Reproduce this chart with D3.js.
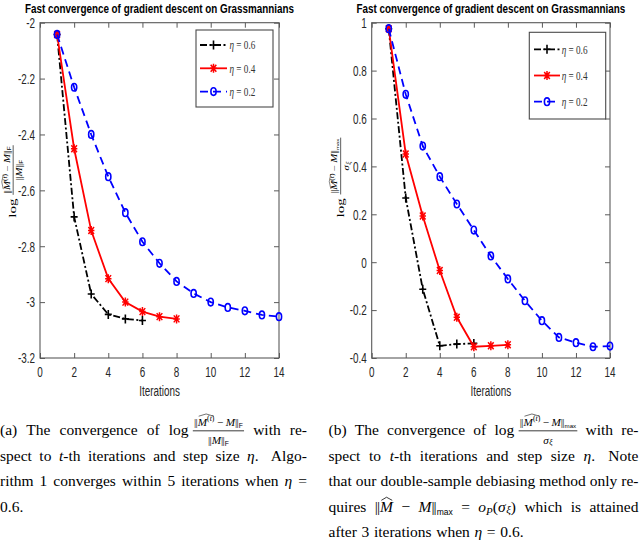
<!DOCTYPE html>
<html><head><meta charset="utf-8">
<script src="https://cdn.jsdelivr.net/npm/d3@7"></script>
<style>body{margin:0;background:#fff}</style>
</head><body>
<svg id="c" width="640" height="542"></svg>
<script>
// ---------- data ----------
const iterations = [1,2,3,4,5,6,7,8,9,10,11,12,13,14];
const etaLabels = ["0.6","0.4","0.2"];
const leftEta06 = [-2.042,-2.695,-2.971,-3.044,-3.060,-3.066];
const leftEta04 = [-2.042,-2.451,-2.744,-2.916,-3.000,-3.034,-3.052,-3.060];
const leftEta02 = [-2.042,-2.231,-2.400,-2.551,-2.680,-2.784,-2.861,-2.926,-2.969,-3.000,-3.019,-3.031,-3.046,-3.052];
const rightEta06 = [0.975,0.268,-0.113,-0.349,-0.342,-0.339];
const rightEta04 = [0.975,0.452,0.193,-0.035,-0.230,-0.353,-0.349,-0.345];
const rightEta02 = [0.975,0.701,0.485,0.357,0.243,0.134,0.026,-0.070,-0.161,-0.244,-0.314,-0.336,-0.353,-0.350];
const xTicks = [0,2,4,6,8,10,12,14];
const xTickLabels = ["0","2","4","6","8","10","12","14"];
const leftYTicks = [-2,-2.2,-2.4,-2.6,-2.8,-3,-3.2];
const leftYTickLabels = ["-2","-2.2","-2.4","-2.6","-2.8","-3","-3.2"];
const rightYTicks = [1,0.8,0.6,0.4,0.2,0,-0.2,-0.4];
const rightYTickLabels = ["1","0.8","0.6","0.4","0.2","0","-0.2","-0.4"];
const titleText = "Fast convergence of gradient descent on Grassmannians";
const xLabelText = "Iterations";

// ---------- helpers ----------
const SERIF = "'Liberation Serif','DejaVu Serif',serif";
const SANS = "'Liberation Sans',Arial,sans-serif";
const svg = d3.select("#c");

function txt(g, p, x, y, base) {
  const fs = base * (p.s || 1);
  const t = g.append("text").attr("x", x).attr("y", y + (p.dy || 0) * base)
    .attr("font-family", p.sans ? SANS : SERIF).attr("font-size", fs)
    .attr("font-style", p.i ? "italic" : "normal").attr("fill", p.fill || "#000").text(p.t);
  return t.node().getComputedTextLength();
}
function render(g, pieces, x, y, base) {
  for (const p of pieces) {
    if (p.sp !== undefined) { x += p.sp * base; continue; }
    if (p.frac) {
      const fs = p.fs || 0.72;
      const gn = g.append("g"), gd = g.append("g");
      const wn = render(gn, p.frac[0], 0, 0, base * fs);
      const wd = render(gd, p.frac[1], 0, 0, base * fs);
      const w = Math.max(wn, wd) + 0.15 * base;
      gn.attr("transform", `translate(${x + (w - wn) / 2},${y - 0.6 * base})`);
      gd.attr("transform", `translate(${x + (w - wd) / 2},${y + 0.55 * base})`);
      g.append("line").attr("x1", x).attr("x2", x + w)
        .attr("y1", y - 0.27 * base).attr("y2", y - 0.27 * base)
        .attr("stroke", "#000").attr("stroke-width", 0.05 * base);
      x += w; continue;
    }
    if (p.hat) {
      const x0 = x;
      x = render(g, p.hat, x, y, base);
      const hy = y - (p.h || 0.8) * base;
      g.append("path")
        .attr("d", `M${x0 + 0.08 * base},${hy + 0.1 * base}L${(x0 + x) / 2},${hy - 0.1 * base}L${x - 0.05 * base},${hy + 0.1 * base}`)
        .attr("fill", "none").attr("stroke", "#000").attr("stroke-width", 0.05 * base);
      continue;
    }
    x += txt(g, p, x, y, base);
  }
  return x;
}
const W = s => [{ t: s }];
const sup = s => ({ t: s, s: 0.7, dy: -0.38 });
const supI = s => ({ t: s, s: 0.7, dy: -0.38, i: 1 });
const bar = { t: "|" };
const NORM = [bar, { sp: -0.06 }, bar];
const Mhat_t = { hat: [{ t: "M", i: 1 }, sup("("), supI("t"), sup(")")], h: 0.95 };
const normNum = sub => [...NORM, Mhat_t, { sp: 0.22 }, { t: "\u2212" }, { sp: 0.22 }, { t: "M", i: 1 }, ...NORM, sub];
const subF = { t: "F", sans: 1, s: 0.6, dy: 0.2 };
const subMax = { t: "max", sans: 1, s: 0.55, dy: 0.2 };
const sigmaXi = [{ t: "\u03c3", i: 1 }, { sp: 0.04 }, { t: "\u03be", i: 1, s: 0.7, dy: 0.1 }];
const fracF = { frac: [normNum(subF), [...NORM, { t: "M", i: 1 }, ...NORM, subF]] };
const fracMax = { frac: [normNum(subMax), sigmaXi] };

// ---------- charts ----------
function marker(g, type, color, cx, cy) {
  if (type === "plus") {
    g.append("path").attr("d", `M${cx - 3.5},${cy}H${cx + 3.5}M${cx},${cy - 4.5}V${cy + 4.5}`)
      .attr("stroke", color).attr("stroke-width", 1.6).attr("fill", "none");
  } else if (type === "star") {
    g.append("path").attr("d", `M${cx - 3.2},${cy}H${cx + 3.2}M${cx},${cy - 4.5}V${cy + 4.5}M${cx - 2.8},${cy - 3.5}L${cx + 2.8},${cy + 3.5}M${cx - 2.8},${cy + 3.5}L${cx + 2.8},${cy - 3.5}`)
      .attr("stroke", color).attr("stroke-width", 1.5).attr("fill", "none");
  } else {
    g.append("ellipse").attr("cx", cx).attr("cy", cy).attr("rx", 2.6).attr("ry", 3.8)
      .attr("stroke", color).attr("stroke-width", 1.6).attr("fill", "none");
  }
}

const seriesStyle = [
  { color: "#000", dash: "7,2.5,2,2.5", mk: "plus" },
  { color: "#ff0000", dash: null, mk: "star" },
  { color: "#0000ff", dash: "8,5", mk: "circle" }
];

function condensedText(g, x, y, anchor, str, sx, attrs) {
  const t = g.append("text").attr("transform", `translate(${x},${y}) scale(${sx},1)`)
    .attr("text-anchor", anchor).text(str);
  Object.entries(attrs).forEach(([k, val]) => t.attr(k, val));
  return t;
}

function drawChart(cfg) {
  const g = svg.append("g");
  const x = d3.scaleLinear().domain([0, 14]).range([cfg.x0, cfg.x1]);
  const y = d3.scaleLinear().domain(cfg.yDomain).range([cfg.yB, cfg.yT]);
  const axisCol = "#5a5a5a";
  g.append("g").attr("transform", `translate(0,${cfg.yB})`)
    .call(d3.axisBottom(x).tickValues(xTicks).tickSize(-5).tickFormat(""));
  g.append("g").attr("transform", `translate(0,${cfg.yT})`)
    .call(d3.axisTop(x).tickValues(xTicks).tickSize(-5).tickFormat(""));
  g.append("g").attr("transform", `translate(${cfg.x0},0)`)
    .call(d3.axisLeft(y).tickValues(cfg.yTicks).tickSize(-5).tickFormat(""));
  g.append("g").attr("transform", `translate(${cfg.x1},0)`)
    .call(d3.axisRight(y).tickValues(cfg.yTicks).tickSize(-5).tickFormat(""));
  g.selectAll(".domain").remove();
  g.selectAll(".tick line").attr("stroke", axisCol).attr("stroke-width", 1);
  g.append("rect").attr("x", cfg.x0).attr("y", cfg.yT).attr("width", cfg.x1 - cfg.x0).attr("height", cfg.yB - cfg.yT)
    .attr("fill", "none").attr("stroke", axisCol).attr("stroke-width", 1.1);

  const lab = { "font-family": SANS, "font-size": 15, fill: "#262626" };
  xTicks.forEach((v, i) => condensedText(g, x(v), cfg.yB + 19, "middle", xTickLabels[i], 0.66, lab));
  cfg.yTicks.forEach((v, i) => condensedText(g, cfg.x0 - 5, y(v) + 5.3, "end", cfg.yLabels[i], 0.66, lab));
  condensedText(g, (cfg.x0 + cfg.x1) / 2, cfg.yB + 38, "middle", xLabelText, 0.66, lab);

  // title (condensed to the reference width)
  const tt = condensedText(g, (cfg.x0 + cfg.x1) / 2, 13, "middle", titleText, 1,
    { "font-family": SANS, "font-weight": "bold", "font-size": 13.5, fill: "#000" });
  const tw = tt.node().getComputedTextLength();
  tt.attr("transform", `translate(${(cfg.x0 + cfg.x1) / 2},13) scale(${269 / tw},1)`);

  const line = d3.line().x((d, i) => x(iterations[i])).y(d => y(d));
  cfg.series.forEach((vals, si) => {
    const st = seriesStyle[si];
    g.append("path").datum(vals).attr("d", line).attr("fill", "none")
      .attr("stroke", st.color).attr("stroke-width", 1.8).attr("stroke-dasharray", st.dash);
    vals.forEach((v, i) => marker(g, st.mk, st.color, x(iterations[i]), y(v)));
  });

  const L = cfg.legend;
  g.append("rect").attr("x", L.x).attr("y", L.y).attr("width", L.w).attr("height", L.h)
    .attr("fill", "#fff").attr("stroke", "#4a4a4a").attr("stroke-width", 1.1);
  etaLabels.forEach((lbl, i) => {
    const st = seriesStyle[i];
    const cy = L.y + L.first + i * L.step;
    g.append("line").attr("x1", L.lx0).attr("x2", L.lx1).attr("y1", cy).attr("y2", cy)
      .attr("stroke", st.color).attr("stroke-width", 1.8).attr("stroke-dasharray", st.dash);
    marker(g, st.mk, st.color, (L.lx0 + L.lx1) / 2, cy);
    const tg = g.append("g").attr("transform", `translate(${L.tx},${cy + 4.3}) scale(0.68,1)`);
    render(tg, [{ t: "\u03b7", i: 1, fill: "#333" }, { sp: 0.25 }, { t: "=", fill: "#333" }, { sp: 0.25 }, { t: lbl, fill: "#333" }], 0, 0, 13.5);
  });

  const yl = svg.append("g");
  const inner = yl.append("g");
  const wlab = render(inner, [{ t: "log" }, { sp: 0.25 }, cfg.yFrac], 0, 0, 15);
  yl.attr("transform", `translate(${cfg.ylx},${cfg.ylc + wlab / 2}) rotate(-90) scale(1,0.7)`);
}

drawChart({
  x0: 40, x1: 279, yT: 22.7, yB: 358, yDomain: [-3.2, -2],
  yTicks: leftYTicks, yLabels: leftYTickLabels,
  series: [leftEta06, leftEta04, leftEta02],
  legend: { x: 196, y: 30, w: 77, h: 77, first: 15, step: 23.3, lx0: 200, lx1: 227, tx: 229.5 },
  yFrac: fracF, ylx: 16, ylc: 181.5
});
drawChart({
  x0: 371.7, x1: 610, yT: 22.7, yB: 358, yDomain: [-0.4, 1],
  yTicks: rightYTicks, yLabels: rightYTickLabels,
  series: [rightEta06, rightEta04, rightEta02],
  legend: { x: 529.3, y: 32.3, w: 76.4, h: 86.7, first: 17, step: 26.2, lx0: 534, lx1: 560, tx: 561.7 },
  yFrac: fracMax, ylx: 343.5, ylc: 177.5
});

// ---------- captions ----------
function captionLine(words, x0, x1, y, base, justify) {
  const g = svg.append("g");
  const gs = words.map(w => { const gg = g.append("g"); const wd = render(gg, w, 0, 0, base); return { gg, wd }; });
  const total = d3.sum(gs, d => d.wd);
  const n = gs.length - 1;
  const gap = justify && n > 0 ? (x1 - x0 - total) / n : 0.3 * base;
  let x = x0;
  gs.forEach(d => { d.gg.attr("transform", `translate(${x},${y})`); x += d.wd + gap; });
}
const eta = { t: "\u03b7", i: 1 };
const capBase = 15.5;
const capY = [435, 460.5, 486, 511.5, 537];
const Lx0 = 0, Lx1 = 307;
captionLine([W("(a)"), W("The"), W("convergence"), W("of"), [{ t: "log" }, { sp: 0.28 }, fracF], W("with"), W("re-")], Lx0, Lx1, capY[0], capBase, true);
captionLine([W("spect"), W("to"), [{ t: "t", i: 1 }, { t: "-th" }], W("iterations"), W("and"), W("step"), W("size"), [eta, { t: "." }, { sp: 0.3 }], W("Algo-")], Lx0, Lx1, capY[1], capBase, true);
captionLine([W("rithm"), W("1"), W("converges"), W("within"), W("5"), W("iterations"), W("when"), [eta], W("=")], Lx0, Lx1, capY[2], capBase, true);
captionLine([W("0.6.")], Lx0, Lx1, capY[3], capBase, false);
const Rx0 = 328.5, Rx1 = 638.5;
captionLine([W("(b)"), W("The"), W("convergence"), W("of"), [{ t: "log" }, { sp: 0.28 }, fracMax], W("with"), W("re-")], Rx0, Rx1, capY[0], capBase, true);
captionLine([W("spect"), W("to"), [{ t: "t", i: 1 }, { t: "-th" }], W("iterations"), W("and"), W("step"), W("size"), [eta, { t: "." }, { sp: 0.3 }], W("Note")], Rx0, Rx1, capY[1], capBase, true);
captionLine([W("that"), W("our"), W("double-sample"), W("debiasing"), W("method"), W("only"), W("re-")], Rx0, Rx1, capY[2], capBase, true);
captionLine([W("quires"), [...NORM, { hat: [{ t: "M", i: 1 }], h: 0.82 }], W("\u2212"), [{ t: "M", i: 1 }, ...NORM, { t: "max", sans: 1, s: 0.55, dy: 0.2 }], W("="),
  [{ t: "o", i: 1 }, { t: "P", i: 1, s: 0.7, dy: 0.2 }, { t: "(" }, ...sigmaXi, { t: ")" }],
  W("which"), W("is"), W("attained")], Rx0, Rx1, capY[3], capBase, true);
captionLine([W("after"), W("3"), W("iterations"), W("when"), [eta], W("="), W("0.6.")], Rx0, Rx1, capY[4], capBase, false);
</script>
</body></html>
